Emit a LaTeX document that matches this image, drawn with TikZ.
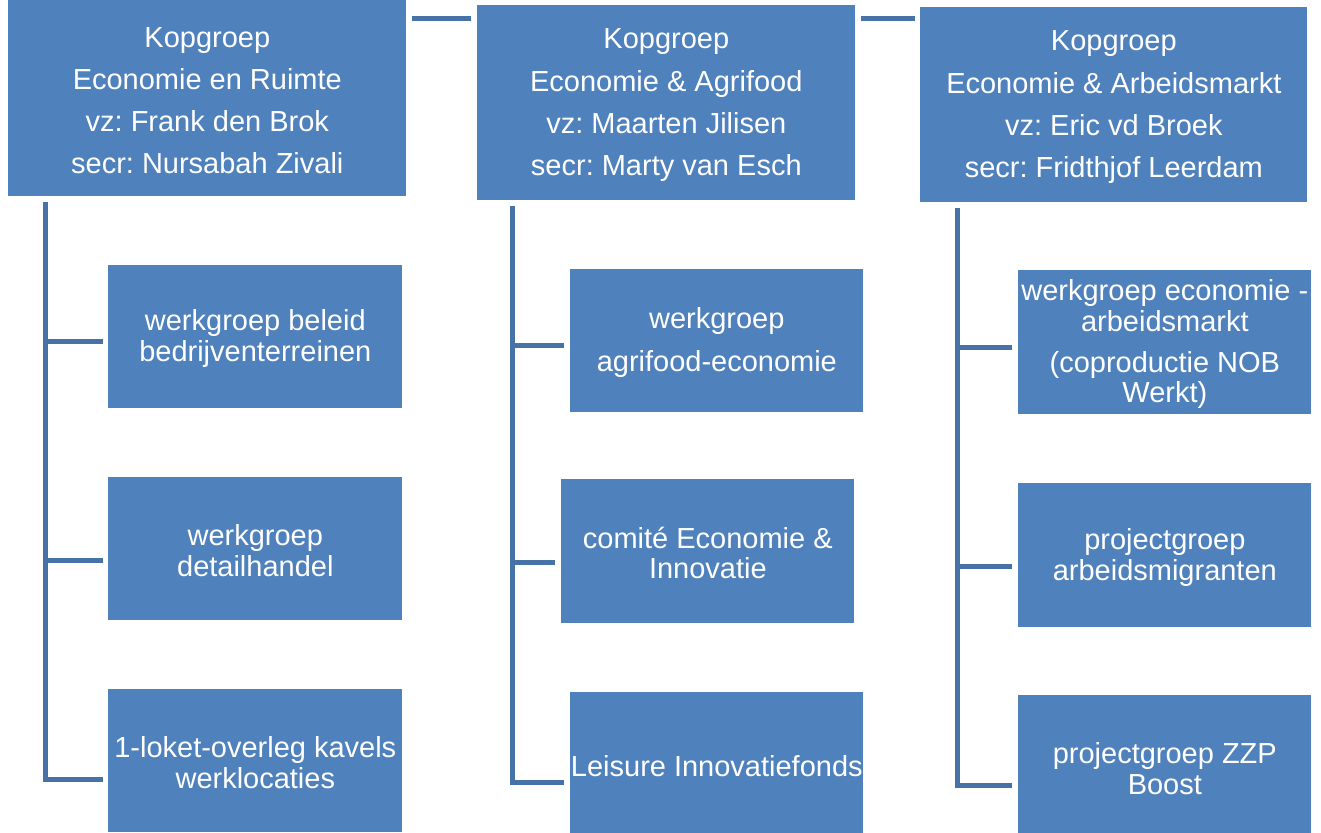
\documentclass[tikz,border=0pt]{standalone}
\usepackage{fontspec}
\setmainfont{Liberation Sans}
\usepackage{tikz}
\usetikzlibrary{positioning, calc}
\frenchspacing
\definecolor{boxblue}{RGB}{79,129,189}
\definecolor{lineblue}{RGB}{70,114,168}
\tikzset{box/.style = {anchor=north west, fill=boxblue, text=white, inner sep=0pt, align=center,
                       font=\fontsize{16.5}{17.5}\selectfont},
         kop/.style = {box, font=\fontsize{16.5}{24}\selectfont},
         conn/.style = {draw=lineblue, line width=0.1cm}}

\begin{document}
\begin{tikzpicture}[x=0.02cm, y=-0.02cm]
            \useasboundingbox (0,0) rectangle (1321,832);
            % kopgroepen
            \node[kop, minimum width=7.96cm, minimum height=3.92cm] (A) at (8,0)
                {\rule{0pt}{14pt}Kopgroep\\Economie en Ruimte\\vz: Frank den Brok\\secr: Nursabah Zivali};
            \node[kop, minimum width=7.56cm, minimum height=3.9cm] (B) at (477,5)
                {\rule{0pt}{14pt}Kopgroep\\Economie \& Agrifood\\vz: Maarten Jilisen\\secr: Marty van Esch};
            \node[kop, minimum width=7.74cm, minimum height=3.9cm] (C) at (920,7)
                {\rule{0pt}{14pt}Kopgroep\\Economie \& Arbeidsmarkt\\vz: Eric vd Broek\\secr: Fridthjof Leerdam};
            % werkgroepen
            \node[box, minimum width=5.88cm, minimum height=2.86cm] (A1) at (108,265) {\rule{0pt}{14pt}werkgroep beleid\\bedrijventerreinen};
            \node[box, minimum width=5.88cm, minimum height=2.86cm] (A2) at (108,477) {\rule{0pt}{14pt}werkgroep\\detailhandel};
            \node[box, minimum width=5.88cm, minimum height=2.86cm] (A3) at (108,689) {\rule{0pt}{14pt}1-loket-overleg kavels\\werklocaties};
            \node[box, minimum width=5.86cm, minimum height=2.86cm] (B1) at (570,269) {\rule{0pt}{14pt}werkgroep\\[0.24cm]agrifood-economie};
            \node[box, minimum width=5.86cm, minimum height=2.88cm] (B2) at (561,479) {\rule{0pt}{14pt}comité Economie \&\\Innovatie};
            \node[box, minimum width=5.86cm, minimum height=2.86cm] (B3) at (570,692) {\rule{0pt}{14pt}Leisure Innovatiefonds};
            \node[box, minimum width=5.86cm, minimum height=2.88cm] (C1) at (1018,270)
                {\rule{0pt}{14pt}werkgroep economie -\\arbeidsmarkt\\[0.2cm](coproductie NOB\\Werkt)};
            \node[box, minimum width=5.86cm, minimum height=2.88cm] (C2) at (1018,483) {\rule{0pt}{14pt}projectgroep\\arbeidsmigranten};
            \node[box, minimum width=5.86cm, minimum height=2.86cm] (C3) at (1018,695) {\rule{0pt}{14pt}projectgroep ZZP\\Boost};
            % lijnen tussen kopgroepen
            \draw[conn] ([shift={(5,18.6)}]A.north east) -- ([shift={(-6,13.6)}]B.north west);
            \draw[conn] ([shift={(5,13.6)}]B.north east) -- ([shift={(-5,11.6)}]C.north west);
            % stammen en takken
            \coordinate (tA) at (45,202);
            \coordinate (tB) at (512,206);
            \coordinate (tC) at (957,208);
            \coordinate (a1) at ([shift={(-5,5)}]A1.west);
            \coordinate (a2) at ([shift={(-5,11.5)}]A2.west);
            \coordinate (a3) at ([shift={(-5,18.5)}]A3.west);
            \coordinate (b1) at ([shift={(-6,4.5)}]B1.west);
            \coordinate (b2) at ([shift={(-6,11.5)}]B2.west);
            \coordinate (b3) at ([shift={(-6,18.5)}]B3.west);
            \coordinate (c1) at ([shift={(-6,5)}]C1.west);
            \coordinate (c2) at ([shift={(-6,11)}]C2.west);
            \coordinate (c3) at ([shift={(-6,18.5)}]C3.west);
            \draw[conn] (tA) |- (a3);
            \draw[conn] (tA |- a1) -- (a1);
            \draw[conn] (tA |- a2) -- (a2);
            \draw[conn] (tB) |- (b3);
            \draw[conn] (tB |- b1) -- (b1);
            \draw[conn] (tB |- b2) -- (b2);
            \draw[conn] (tC) |- (c3);
            \draw[conn] (tC |- c1) -- (c1);
            \draw[conn] (tC |- c2) -- (c2);
        \end{tikzpicture}
\end{document}
